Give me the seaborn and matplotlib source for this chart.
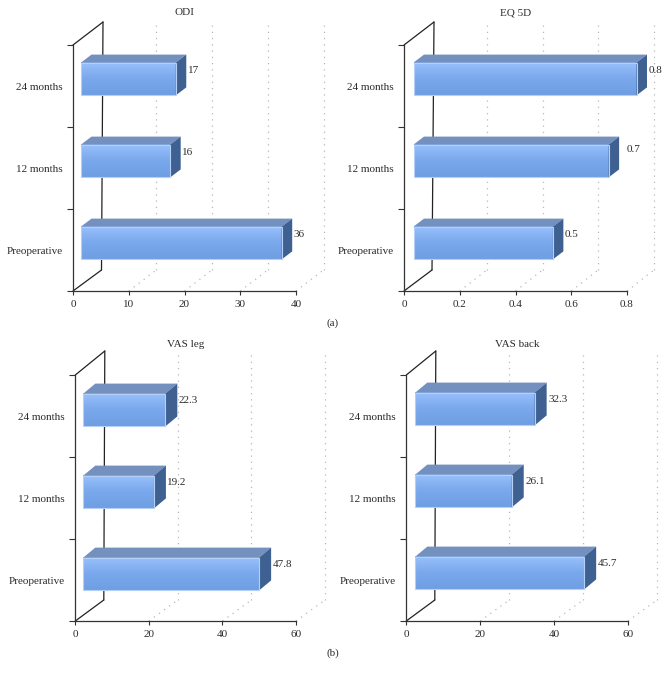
import numpy as np
import pandas as pd
import seaborn as sns
from matplotlib import pyplot as plt
from matplotlib.colors import LinearSegmentedColormap
from matplotlib.patches import Polygon
from matplotlib.transforms import Affine2D, IdentityTransform

W, H = 669, 675

categories = ['24 months', '12 months', 'Preoperative']

odi_values = [17, 16, 36]
eq5d_values = [0.8, 0.7, 0.5]
vas_leg_values = [22.3, 19.2, 47.8]
vas_back_values = [32.3, 26.1, 45.7]

odi_labels = ['17', '16', '36']
eq5d_labels = ['0.8', '0.7', '0.5']
vas_leg_labels = ['22.3', '19.2', '47.8']
vas_back_labels = ['32.3', '26.1', '45.7']

odi_ticks = [0, 10, 20, 30, 40]
eq5d_ticks = [0, 0.2, 0.4, 0.6, 0.8]
vas_ticks = [0, 20, 40, 60]
eq5d_ticklabels = ['0', '0.2', '0.4', '0.6', '0.8']

sns.set_theme(style='white')
plt.rcParams['font.family'] = ['Liberation Serif', 'DejaVu Serif']
FS = 8
TEXT = '#2b2b2b'
GRID = '#b8b8b8'
bar_cmap = LinearSegmentedColormap.from_list('bar', ['#98c0fc', '#7aa8ec', '#6f9ee2'])
gradient = np.linspace(0, 1, 64).reshape(-1, 1)

fig = plt.figure(figsize=(W / 100, H / 100), dpi=100)


def px_line(ax, xs, ys, **kw):
    ax.plot(xs, [H - y for y in ys], transform=IdentityTransform(), clip_on=False, **kw)


def panel(title, values, labels, ticks, ticklabels, box, back_low, back_high, grid_dx, shift, depth,
          label_off, title_pad, nudge=None):
    x0, y0, x1, y1 = box
    ax = fig.add_axes([x0 / W, 1 - y1 / H, (x1 - x0) / W, (y1 - y0) / H])
    ax.patch.set_alpha(0)
    df = pd.DataFrame({'category': categories, 'value': values})
    sns.barplot(data=df, y='category', x='value', order=categories, width=0.4, ax=ax,
                facecolor='none', edgecolor='#b4d0f7', linewidth=0.8, zorder=4, clip_on=False)
    sns.despine(ax=ax)
    xmax = ticks[-1]
    bars = list(ax.patches)
    for bar in bars:
        ax.imshow(gradient, extent=(bar.get_x(), bar.get_x() + bar.get_width(),
                                    bar.get_y() + bar.get_height(), bar.get_y()),
                  origin='upper', aspect='auto', cmap=bar_cmap, zorder=3, clip_on=False,
                  transform=ax.transData + Affine2D().translate(shift[0], shift[1]))
    ax.set_xlim(0, xmax)
    ax.set_ylim(len(categories) - 0.5, -0.5)
    ax.set_xticks(ticks, ticklabels)
    ax.set_yticks(np.arange(len(categories) + 1) - 0.5, [])
    ax.set_yticks(np.arange(len(categories)), categories, minor=True)
    ax.tick_params(axis='y', which='major', left=True, length=4, width=0.8, color='#333333')
    ax.tick_params(axis='y', which='minor', left=False, length=0, pad=7.5, labelsize=FS, labelcolor=TEXT)
    ax.tick_params(axis='x', bottom=True, length=3, width=0.8, color='#333333', pad=3.5,
                   labelsize=FS, labelcolor=TEXT)
    ax.set_xlabel('')
    ax.set_ylabel('')
    for side in ('left', 'bottom'):
        ax.spines[side].set_color('#333333')
        ax.spines[side].set_linewidth(0.9)
    ax.set_title(title, fontsize=FS, color=TEXT, pad=title_pad)

    # walls and dotted grid in pixel space, the chart fakes its depth
    tick_px = ax.transData.transform([(t, len(categories) - 0.5) for t in ticks])[:, 0]
    dotted = dict(color=GRID, lw=0.9, ls=(0, (1, 4)), zorder=1)
    for tx in tick_px[1:]:
        px_line(ax, [tx, tx + grid_dx], [y1, y1 + back_low[1]], **dotted)
        px_line(ax, [tx + grid_dx, tx + grid_dx], [y1 + back_low[1], y0 + back_high[1]], **dotted)
    wall = dict(color='#222222', lw=0.9, zorder=2)
    px_line(ax, [x0, x0 + back_low[0]], [y1, y1 + back_low[1]], **wall)
    px_line(ax, [x0, x0 + back_high[0]], [y0, y0 + back_high[1]], **wall)
    px_line(ax, [x0 + back_low[0], x0 + back_high[0]], [y1 + back_low[1], y0 + back_high[1]], **wall)

    # top and side faces are built from the seaborn bars
    for i, (bar, label) in enumerate(zip(bars, labels)):
        bar.set_transform(ax.transData + Affine2D().translate(shift[0], shift[1]))
        (lx, ty), (rx, by) = ax.transData.transform(
            [(bar.get_x(), bar.get_y()), (bar.get_x() + bar.get_width(), bar.get_y() + bar.get_height())])
        lx, rx = lx + shift[0], rx + shift[0]
        ty, by = ty + shift[1], by + shift[1]
        dx, dy = depth
        ax.add_patch(Polygon([(lx, ty), (lx + dx, ty + dy), (rx + dx, ty + dy), (rx, ty)],
                             facecolor='#7490bf', edgecolor='none', zorder=3,
                             transform=IdentityTransform(), clip_on=False))
        ax.add_patch(Polygon([(rx, ty), (rx + dx, ty + dy), (rx + dx, by + dy), (rx, by)],
                             facecolor='#3f6192', edgecolor='none', zorder=3,
                             transform=IdentityTransform(), clip_on=False))
        nx, ny = (nudge or {}).get(i, (0, 0))
        ax.text(rx + label_off[0] + nx, (ty + by) / 2 + label_off[1] + ny, label, fontsize=FS,
                color=TEXT, va='center', ha='left', transform=IdentityTransform(), zorder=5)
    return ax


depth_a, depth_b = (10.5, 8), (12, 10)
panel('ODI', odi_values, odi_labels, odi_ticks, [str(t) for t in odi_ticks], (73, 45, 296, 291),
      (28.5, -21), (30, -23), 27.5, (8, 7), depth_a, (12, 8.5), 21.5)
panel('EQ 5D', eq5d_values, eq5d_labels, eq5d_ticks, eq5d_ticklabels, (404, 45, 627, 291),
      (28, -21), (30, -23), 27, (9.5, 7), depth_a, (12, 8.5), 21.5, nudge={1: (6, 2.5)})
panel('VAS leg', vas_leg_values, vas_leg_labels, vas_ticks, [str(t) for t in vas_ticks], (75.3, 375, 296, 621),
      (28.5, -21), (29.5, -24), 29, (8, 6), depth_b, (13.5, 9.5), 20.5)
panel('VAS back', vas_back_values, vas_back_labels, vas_ticks, [str(t) for t in vas_ticks], (406.3, 375, 628, 621),
      (28.5, -21), (29.5, -24), 29, (9, 7), depth_b, (13.5, 9.5), 20.5)

fig.text(333 / W, 1 - 323 / H, '(a)', fontsize=FS, color=TEXT, ha='center', va='center')
fig.text(333 / W, 1 - 653 / H, '(b)', fontsize=FS, color=TEXT, ha='center', va='center')

fig.savefig('out.png', dpi=100, facecolor='white')
